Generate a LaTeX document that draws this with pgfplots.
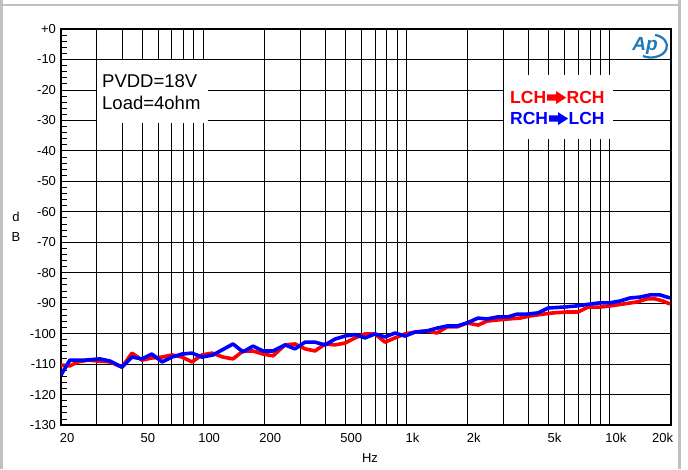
\documentclass[border=0pt]{standalone}
\usepackage{fontspec}
\setmainfont{Liberation Sans}
\usepackage{pgfplots}
\pgfplotsset{compat=1.18}
\definecolor{aplogo}{RGB}{30,120,185}
\definecolor{framegray}{RGB}{192,192,192}
% heavy right arrow used between channel names
\newcommand\keyarrow[1]{\hspace{1pt}\tikz[baseline=0pt]\fill[#1] (0pt,3.3pt) -- (9pt,3.3pt) -- (9pt,0pt) -- (19pt,6.4pt) -- (9pt,12.8pt) -- (9pt,9.5pt) -- (0pt,9.5pt) -- cycle;\hspace{0.5pt}}

% crosstalk, left -> right channel
\pgfplotstableread{
f dB
20 -110.3
22.1 -110.6
24.2 -109.3
27.2 -108.7
30.4 -109.0
34.8 -109.3
39.9 -111.0
44.7 -106.4
50.0 -108.7
56.0 -108.0
62.8 -107.7
70.3 -107.0
78.7 -107.7
88.2 -109.3
98.7 -107.0
110.6 -106.4
125.3 -107.7
140.3 -108.3
157.1 -105.7
175.9 -105.7
197.0 -106.7
220.7 -107.3
252.8 -103.7
283.2 -103.4
317.0 -105.0
355.0 -105.7
397.6 -103.4
445.3 -103.7
498.6 -103.1
558.4 -101.4
625.4 -100.1
700.4 -100.1
784.4 -102.8
878.6 -101.4
983.8 -100.1
1101.7 -99.5
1262 -99.1
1413 -99.8
1583 -97.8
1773 -97.8
1985 -96.5
2248 -97.2
2490 -95.9
2820 -95.5
3158 -95.2
3618 -94.9
4052 -94.2
4694 -93.6
5258 -93.2
6162 -92.9
6980 -92.9
7814 -91.3
8952 -91.3
10024 -90.9
11616 -90.3
13610 -89.6
15242 -88.6
16688 -88.6
18268 -89.3
19776 -90.3
}\lchrch

% crosstalk, right -> left channel
\pgfplotstableread{
f dB
20 -113.6
22.1 -108.7
26.2 -108.7
31.1 -108.3
34.8 -109.0
39.9 -111.0
44.7 -107.7
50.0 -108.3
56.0 -106.7
62.8 -109.3
70.3 -107.7
78.7 -106.7
88.2 -106.4
98.7 -107.7
111.8 -107.0
140.3 -103.4
157.1 -106.0
175.9 -104.1
197.0 -105.7
220.7 -105.7
252.8 -103.7
283.2 -105.0
317.0 -102.8
355.0 -102.8
397.6 -103.7
445.3 -101.8
498.6 -100.8
558.4 -100.3
625.4 -101.4
700.4 -100.1
784.4 -101.1
878.6 -99.8
983.8 -100.8
1101.7 -99.5
1262 -99.1
1413 -98.2
1583 -97.5
1773 -97.5
1985 -96.5
2248 -94.9
2490 -95.2
2820 -94.5
3158 -94.5
3498 -93.6
3916 -93.6
4436 -93.2
4968 -91.6
5888 -91.3
6898 -90.9
7992 -90.3
8952 -89.9
10024 -89.9
11228 -89.3
12574 -88.3
14082 -88.0
15772 -87.3
17660 -87.3
19776 -88.3
}\rchlch

\begin{document}
\begin{tikzpicture}
\useasboundingbox (0pt,0pt) rectangle (688pt,469pt);
% window frame
\draw[framegray, line width=2.6pt] (1.3pt,0pt) -- (1.3pt,469pt);
\draw[framegray, line width=2.6pt] (679.5pt,0pt) -- (679.5pt,469pt);
\draw[framegray, line width=2pt] (0pt,463.8pt) -- (680.8pt,463.8pt);

\begin{axis}[
  at={(61pt,44pt)}, anchor=south west,
  scale only axis, width=610pt, height=396pt,
  xmode=log, xmin=20, xmax=20000, ymin=-130, ymax=0,
  xtick={20,50,100,200,500,1000,2000,5000,10000,20000},
  xticklabels={20,50,100,200,500,1k,2k,5k,10k,\makebox[0pt][r]{20k\hspace{4pt}}},
  minor xtick={30,40,60,70,80,90,300,400,600,700,800,900,3000,4000,6000,7000,8000,9000},
  ytick={-130,-120,...,0},
  yticklabels={-130,-120,-110,-100,-90,-80,-70,-60,-50,-40,-30,-20,-10,+0},
  minor y tick num=4,
  xmajorgrids, xminorgrids, ymajorgrids,
  major grid style={black, line width=0.8pt},
  minor grid style={black, line width=0.8pt},
  axis line style={black, line width=1.3pt},
  tick align=inside, ytick pos=left, xtick pos=bottom,
  major tick length=6pt, minor tick length=6pt,
  tick style={black, line width=0.8pt},
  ticklabel style={font=\fontsize{13}{15}\selectfont},
  yticklabel style={xshift=-1.5pt},
  xticklabel style={anchor=base, yshift=-17.5pt, xshift=6pt},
  every axis y label/.style={at={(axis description cs:0,0.5)}, anchor=center,
    xshift=-45pt, align=center, font=\fontsize{13}{20}\selectfont},
  ylabel={d\\B},
  every axis x label/.style={at={(axis description cs:0.5,0)}, anchor=base,
    yshift=-37pt, xshift=4pt, font=\fontsize{13}{15}\selectfont},
  xlabel={Hz},
]
\addplot[red, line width=3.6pt, line join=round] table[x=f, y=dB] {\lchrch};
\addplot[blue, line width=3.6pt, line join=round] table[x=f, y=dB] {\rchlch};
\end{axis}

% condition box
\fill[white] (97pt,346pt) rectangle (208pt,409pt);
\node[anchor=base west, inner sep=0, font=\fontsize{18.5}{20}\selectfont] at (102pt,381pt) {PVDD=18V};
\node[anchor=base west, inner sep=0, font=\fontsize{18.5}{20}\selectfont] at (102pt,359pt) {Load=4ohm};

% channel key
\fill[white] (504pt,330pt) rectangle (613pt,394pt);
\node[anchor=base west, inner sep=0, text=red, font=\bfseries\fontsize{17.5}{20}\selectfont]
  at (510pt,365pt) {LCH\keyarrow{red}RCH};
\node[anchor=base west, inner sep=0, text=blue, font=\bfseries\fontsize{17.5}{20}\selectfont]
  at (510pt,344pt) {RCH\keyarrow{blue}LCH};

% logo
\node[text=aplogo, inner sep=0, font=\bfseries\itshape\fontsize{19}{19}\selectfont] at (645pt,423pt) {Ap};
\draw[aplogo, line width=2.2pt] (655.1pt,434.1pt) arc[start angle=75, end angle=-120, x radius=16pt, y radius=11.5pt];
\end{tikzpicture}
\end{document}
